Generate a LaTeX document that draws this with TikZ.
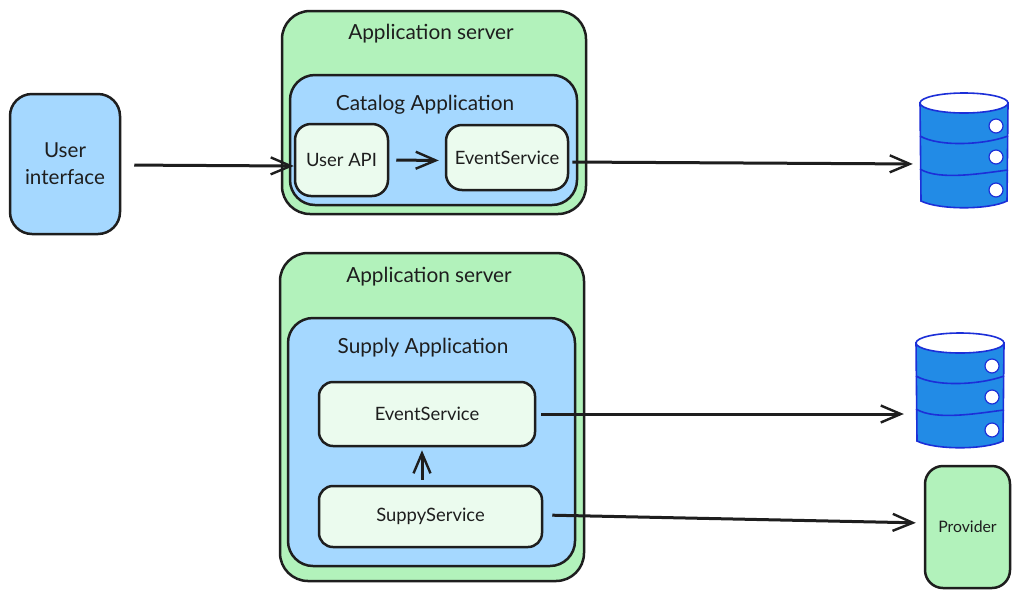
\documentclass[tikz,border=0pt]{standalone}
\usepackage{fontspec}
\setmainfont{Lato}
\usepackage{xcolor}
\usetikzlibrary{arrows.meta}
\definecolor{servergreen}{HTML}{B2F2BB}
\definecolor{appblue}{HTML}{A5D8FF}
\definecolor{palegreen}{HTML}{EBFBEE}
\definecolor{dbblue}{HTML}{228BE6}
\definecolor{dbline}{HTML}{1C2FD8}
\definecolor{inkline}{HTML}{1E1E1E}
\tikzset{
    box/.style={draw=inkline, line width=2.5pt, rounded corners=#1, inner sep=0pt, align=center, text=inkline},
    box/.default=16pt,
    title/.style={inner sep=0pt, text=inkline, font=\fontsize{20.8}{25}\selectfont},
    label/.style={font=\fontsize{18.4}{23}\selectfont},
    conn/.style={draw=inkline, line width=3pt, -{Straight Barb[length=20pt,width=17pt,line width=2.4pt]}},
}
% one database stack, around the middle of its top ellipse
\newcommand{\dbstack}[3]{
    \begin{scope}[shift={(#2,#3)}]
        \node (#1) at (0,50) [minimum width=88pt, minimum height=114pt, inner sep=0pt] {};
        \draw[dbline, line width=1.6pt, fill=dbblue] (-44,0) -- (-43,98) .. controls (-25,107) and (25,107) .. (43,98) -- (44,0) -- cycle;
        \draw[dbline, line width=1.6pt, fill=white] (0,0) ellipse (44 and 10);
        \draw[dbline, line width=1.6pt] (-44,33) .. controls (-25,44) and (20,42) .. (44,33);
        \draw[dbline, line width=1.6pt] (-44,66) .. controls (-25,78) and (20,70) .. (44,67);
        \foreach \cy in {23,54,87}
            \draw[dbline, line width=1.2pt, fill=white] (32,\cy) circle (7);
    \end{scope}
}

\begin{document}
\begin{tikzpicture}[x=1pt,y=-1pt]
    \useasboundingbox[fill=white] (0,0) rectangle (1019,598);
    % left side
    \node (ui) at (65,164) [box=22pt, fill=appblue, minimum width=110pt, minimum height=140pt, font=\fontsize{20.6}{27}\selectfont] {User\\interface};
    % first server
    \node (server1) at (434,112.5) [box=28pt, fill=servergreen, minimum width=304pt, minimum height=203pt] {};
    \node (server1title) at (431,34) [title] {Application server};
    \node (catalog) at (433.5,140) [box=25pt, fill=appblue, minimum width=287pt, minimum height=130pt] {};
    \node (catalogtitle) at (425,105) [title] {Catalog Application};
    \node (api) at (341.5,160) [box, fill=palegreen, minimum width=93pt, minimum height=72pt, label] {User API};
    \node (event1) at (507,157.5) [box, fill=palegreen, minimum width=122pt, minimum height=65pt, label] {EventService};
    % second server
    \node (server2) at (432,417) [box=28pt, fill=servergreen, minimum width=304pt, minimum height=328pt] {};
    \node (server2title) at (429,277) [title] {Application server};
    \node (supply) at (431.5,442) [box=25pt, fill=appblue, minimum width=287pt, minimum height=248pt] {};
    \node (supplytitle) at (423,348) [title] {Supply Application};
    \node (event2) at (427,414) [box=14pt, fill=palegreen, minimum width=216pt, minimum height=64pt, label] {EventService};
    \node (suppy) at (430.5,516.5) [box=14pt, fill=palegreen, minimum width=223pt, minimum height=61pt, label] {SuppyService};
    % right side
    \dbstack{db1}{964}{103}
    \dbstack{db2}{960}{343}
    \node (provider) at (967.5,527) [box=18pt, fill=servergreen, minimum width=85pt, minimum height=122pt, font=\fontsize{15.8}{17}\selectfont] {Provider};
    % arrows
    \draw[conn, shorten <=13pt] ([yshift=-1pt]ui.east) -- ([yshift=-6pt]api.west);
    \draw[conn, shorten <=7pt, shorten >=6pt] (api.east) -- ([yshift=-3pt]event1.west);
    \draw[conn, shorten <=3pt, shorten >=7pt] ([yshift=-4.5pt]event1.east) -- ([yshift=-11pt]db1.west);
    \draw[conn, shorten <=5pt, shorten >=3pt] ([xshift=-8.5pt]suppy.north) -- ([xshift=-5pt]event2.south);
    \draw[conn, shorten <=5pt, shorten >=12pt] (event2.east) -- ([yshift=-21pt]db2.west);
    \draw[conn, shorten <=9pt, shorten >=8pt] ([yshift=1.5pt]suppy.east) -- ([yshift=4pt]provider.west);
\end{tikzpicture}
\end{document}
